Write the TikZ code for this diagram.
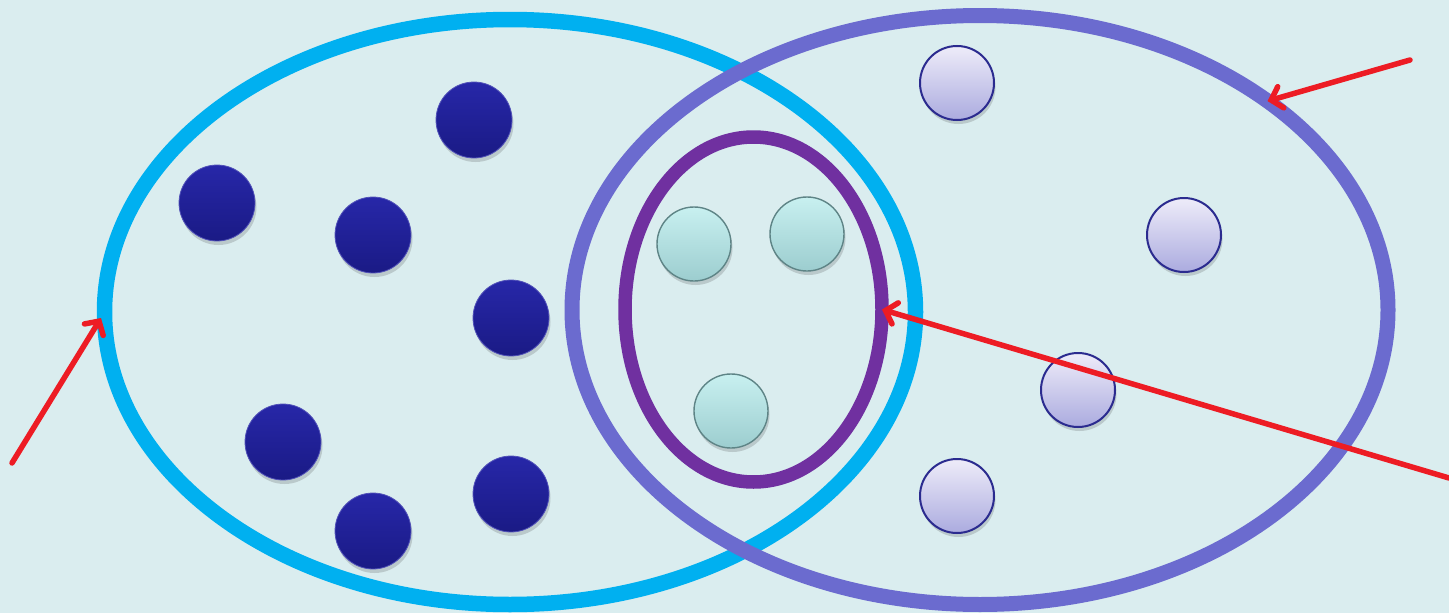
\documentclass[tikz,border=0pt]{standalone}
\usetikzlibrary{shapes.geometric,arrows.meta,shadows}
\definecolor{bgc}{HTML}{DAEDEF}
\definecolor{cyanring}{HTML}{00B0F0}
\definecolor{slatering}{HTML}{6B6BCF}
\definecolor{innerring}{HTML}{7030A0}
\definecolor{redarrow}{HTML}{ED1C24}
\definecolor{navytop}{HTML}{2727A8}
\definecolor{navybot}{HTML}{1A1A85}
\definecolor{tealtop}{HTML}{C8F0F0}
\definecolor{tealbot}{HTML}{9CCDCF}
\definecolor{tealedge}{HTML}{5E8486}
\definecolor{lavtop}{HTML}{EEECF9}
\definecolor{lavbot}{HTML}{ABABDF}
\definecolor{lavedge}{HTML}{2B2B8F}
\tikzset{
  ring/.style={draw, ellipse, inner sep=0pt, outer sep=0pt},
  shad/.style={drop shadow={shadow xshift=1.5pt, shadow yshift=-4pt, opacity=0.22, fill=black!70}},
  navyball/.style={circle, minimum size=76pt, inner sep=0pt, shad, top color=navytop, bottom color=navybot, draw=navytop!80!white, line width=0.8pt},
  tealball/.style={circle, minimum size=74pt, inner sep=0pt, shad, top color=tealtop, bottom color=tealbot, draw=tealedge, line width=1.4pt},
  lavball/.style={circle, minimum size=74pt, inner sep=0pt, shad, top color=lavtop, bottom color=lavbot, draw=lavedge, line width=2pt},
  pointer/.style={draw=redarrow, line width=5.5pt, line cap=round, -{Straight Barb[length=10pt,width=22pt,line cap=round]}},
}
\begin{document}
\begin{tikzpicture}[x=1pt,y=-1pt]
\fill[bgc] (0,0) rectangle (1449,613);
\useasboundingbox (0,0) rectangle (1449,613);
% navy balls
\node[navyball] (n1) at (474,120) {};
\node[navyball] (n2) at (217,203) {};
\node[navyball] (n3) at (373,235) {};
\node[navyball] (n4) at (511,318) {};
\node[navyball] (n5) at (283,442) {};
\node[navyball] (n6) at (373,531) {};
\node[navyball] (n7) at (511,494) {};
% teal balls
\node[tealball] (t1) at (694,244) {};
\node[tealball] (t2) at (807,234) {};
\node[tealball] (t3) at (731,411) {};
% lavender balls
\node[lavball] (l1) at (957,83) {};
\node[lavball] (l2) at (1184,235) {};
\node[lavball] (l3) at (1078,390) {};
\node[lavball] (l4) at (957,496) {};
% rings
\node[ring, draw=cyanring, line width=15.5pt, minimum width=811pt, minimum height=585pt] (L) at (510,312) {};
\node[ring, draw=slatering, line width=15pt, minimum width=816pt, minimum height=589pt] (R) at (980,310) {};
\node[ring, draw=innerring, line width=13.5pt, minimum width=257pt, minimum height=345pt] (I) at (753.5,309.5) {};
% arrows
\coordinate (a1) at (12,463);
\coordinate (a2) at (1410,60);
\coordinate (a3) at (1449,478);
\draw[pointer] (a1) -- (101,318);
\draw[pointer] (a2) -- (R.36);
\draw[pointer] (a3) -- (I.east);
\end{tikzpicture}
\end{document}
